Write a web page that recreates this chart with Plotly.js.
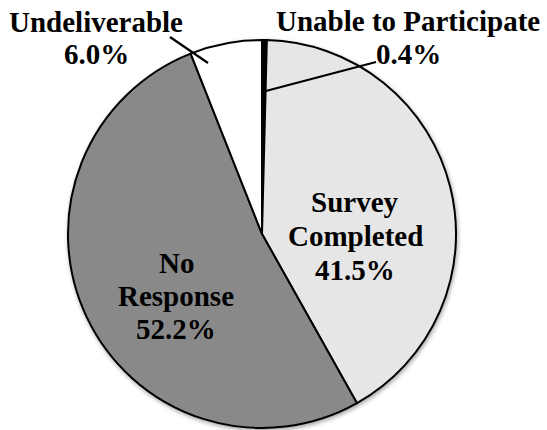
<!DOCTYPE html>
<html>
<head>
<meta charset="utf-8">
<script src="https://cdn.plot.ly/plotly-3.0.1.min.js"></script>
<style>
  html, body { margin: 0; padding: 0; background: #ffffff; }
  #chart { width: 547px; height: 430px; }
  /* soft shadow around the pie wedges */
  #chart .pielayer { filter: drop-shadow(1px 2px 2px rgba(0, 0, 0, 0.35)); }
</style>
</head>
<body>
<div id="chart"></div>
<script>
// Survey outcome shares, clockwise from 12 o'clock
const categories = ['Unable to Participate', 'Survey Completed', 'No Response', 'Undeliverable'];
const shares = [0.4, 41.5, 52.2, 6.0];
// Label text broken into lines as it is printed on the chart
const labelLines = [
  ['Unable to Participate'],
  ['Survey', 'Completed'],
  ['No', 'Response'],
  ['Undeliverable']
];

const W = 547, H = 430;
const sliceColors = ['#000000', '#e6e6e6', '#898989', '#ffffff'];

// Pixel placement of each label block: centre x, baseline of first line, line step
const labelPlacement = [
  { x: 408, y: 30, step: 33 },
  { x: 355, y: 212, step: 33.5 },
  { x: 176, y: 272, step: 33 },
  { x: 96, y: 32, step: 31 }
];
// Leader lines for the labels drawn outside the pie (pixel endpoints)
const leaders = [
  [[262, 92], [376, 62]],
  null, null,
  [[170, 37], [208, 63]]
];

const FONT = { family: 'Liberation Serif', size: 29, color: '#000000', weight: 'bold' };
const px = v => v / W;
const py = v => 1 - v / H;

const annotations = [];
const shapes = [];
categories.forEach((cat, i) => {
  const lines = labelLines[i].concat([shares[i].toFixed(1) + '%']);
  const p = labelPlacement[i];
  lines.forEach((ln, k) => {
    const base = p.y + k * p.step;
    annotations.push({
      xref: 'paper', yref: 'paper',
      x: px(p.x), y: py(base - 9.5),
      xanchor: 'center', yanchor: 'middle',
      text: ln,
      showarrow: false,
      font: FONT
    });
  });
  if (leaders[i]) {
    const [a, b] = leaders[i];
    shapes.push({
      type: 'line', xref: 'paper', yref: 'paper',
      x0: px(a[0]), y0: py(a[1]), x1: px(b[0]), y1: py(b[1]),
      line: { color: '#000000', width: 2.2 }
    });
  }
});

const trace = {
  type: 'pie',
  labels: categories,
  values: shares,
  sort: false,
  direction: 'clockwise',
  rotation: 0,
  textinfo: 'none',
  hoverinfo: 'label+percent',
  marker: { colors: sliceColors, line: { color: '#000000', width: 2 } },
  domain: { x: [px(68), px(456)], y: [py(428), py(40)] },
  showlegend: false
};

const layout = {
  width: W, height: H,
  margin: { l: 0, r: 0, t: 0, b: 0 },
  paper_bgcolor: '#ffffff',
  annotations: annotations,
  shapes: shapes
};

Plotly.newPlot('chart', [trace], layout, { displayModeBar: false, staticPlot: true });
</script>
</body>
</html>
